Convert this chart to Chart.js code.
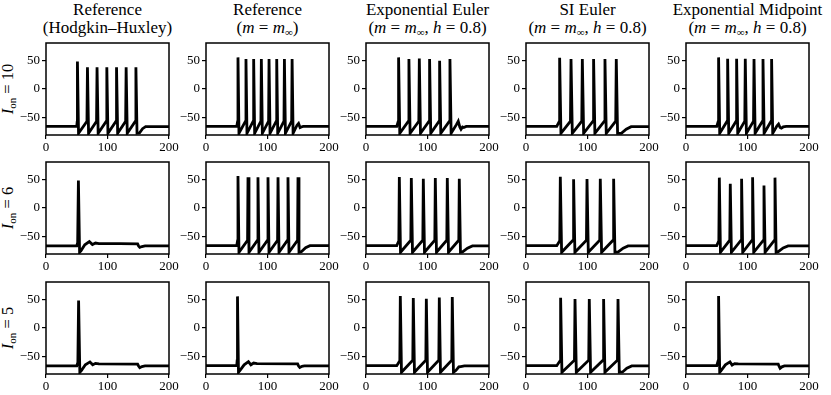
<!DOCTYPE html>
<html>
<head>
<meta charset="utf-8">
<script src="https://cdn.jsdelivr.net/npm/chart.js@4.4.1/dist/chart.umd.min.js"></script>
<style>
  body { margin: 0; background: #fff; width: 831px; height: 395px; position: relative; overflow: hidden; font-family: "Liberation Serif", "DejaVu Serif", serif; color: #000; }
  .title { position: absolute; top: 1px; width: 190px; text-align: center; font-size: 17px; line-height: 17.5px; white-space: nowrap; }
  .rowlabel { position: absolute; width: 90px; height: 20px; line-height: 20px; text-align: center; font-size: 16.5px; transform: rotate(-90deg); white-space: nowrap; }
  .sub { font-size: 11px; position: relative; top: 3px; }
  canvas { position: absolute; }
</style>
</head>
<body>
<script>
// column titles and row labels
const methodTitles = [
    ['Reference', '(Hodgkin–Huxley)'],
    ['Reference', '(<i>m</i> = <i>m</i><span class="sub">∞</span>)'],
    ['Exponential Euler', '(<i>m</i> = <i>m</i><span class="sub">∞</span>, <i>h</i> = 0.8)'],
    ['SI Euler', '(<i>m</i> = <i>m</i><span class="sub">∞</span>, <i>h</i> = 0.8)'],
    ['Exponential Midpoint', '(<i>m</i> = <i>m</i><span class="sub">∞</span>, <i>h</i> = 0.8)']
];
const currents = [10, 6, 5];
const xTicks = [0, 100, 200];
const yTicks = [-50, 0, 50];

// voltage traces [t, V]
const hh10 = [[0,-65],[50,-65],[50.6,-58],[51.1,48],[52.9,-77],
    [66.6,-56],[67.4,38],[69.2,-77],[82.2,-56],[83,38],[84.8,-77],
    [98.1,-56],[98.9,38],[100.7,-77],[113.9,-56],[114.7,38],[116.5,-77],
    [129.5,-56],[130.3,38],[132.1,-77],[145.4,-56],[146.2,38],[148,-77],
    [152,-76.5],[157,-69],[162,-65.5],[200,-65.5]];
const mInf10 = [[0,-65],[50,-65],[51.3,-57],[52,55],[53.6,-77],
    [64.3,-56],[65,52],[66.6,-77],[76.8,-56],[77.5,52],[79.1,-77],
    [89.3,-56],[90,52],[91.6,-77],[101.8,-56],[102.5,52],[104.1,-77],
    [114.3,-56],[115,52],[116.6,-77],[126.8,-56],[127.5,52],[129.1,-77],
    [139.3,-56],[140,52],[141.6,-77],
    [148,-63],[150.5,-60],[153,-67],[155,-66],[158,-65],[200,-65]];
const expEuler10 = [[0,-65],[50,-65],[52.2,-57],[53,55],[54.9,-77],
    [69,-56],[69.8,52],[71.7,-77],[85.9,-56],[86.7,53],[88.6,-77],
    [102.6,-56],[103.4,52],[105.3,-77],[118.9,-56],[119.7,49],[121.6,-77],
    [135.7,-56],[136.5,52],[138.4,-77],
    [147,-62],[150,-56],[152.5,-66],[154.5,-70],[157,-66],[159,-67],[163,-65],[200,-65]];
const siEuler10 = [[0,-65],[50,-65],[53.8,-57],[54.7,54.5],[56.8,-77],
    [72.3,-56],[73.2,52],[75.3,-77],[90.7,-56],[91.6,52],[93.7,-77],
    [109,-56],[109.9,52],[112,-77],[127.5,-56],[128.4,52],[130.5,-77],
    [145.9,-56],[146.8,52],[148.9,-77],
    [155,-77],[163,-70],[171,-65.5],[200,-65.5]];
const expMid10 = [[0,-65],[50,-65],[52.2,-57],[53,55],[54.8,-77],
    [66.9,-56],[67.7,52.5],[69.5,-77],[81.5,-56],[82.3,52.5],[84.1,-77],
    [95.6,-56],[96.4,52.5],[98.2,-77],[109.8,-56],[110.6,52],[112.4,-77],
    [124.4,-56],[125.2,52],[127,-77],[138.4,-56],[139.2,52],[141,-77],
    [148,-64],[150.5,-61],[153,-67],[155,-68],[158,-66],[163,-65],[200,-65]];

const hh6 = [[0,-66],[50,-66],[51.5,-60],[52.7,48],[54.6,-77],[57,-74],[63,-64],
    [70.5,-58.5],[75.5,-63.5],[80.5,-61],[86,-62],[120,-62],[149,-62.5],
    [150.5,-66],[152.5,-68.5],[156,-67],[161,-66],[200,-66]];
const mInf6 = [[0,-65.5],[50,-65.5],[51.3,-57],[52,55.5],[53.6,-77],
    [67.6,-56],[68.3,53.5],[69.9,-77],[83.8,-56],[84.5,53.5],[86.1,-77],
    [100.1,-56],[100.8,53.5],[102.4,-77],[116.4,-56],[117.1,53.5],[118.7,-77],
    [132.6,-56],[133.3,53.5],[134.9,-77],[148.9,-56],[149.6,53.5],[151.2,-77],
    [155,-76],[162,-69],[169,-65.5],[200,-65.5]];
const expEuler6 = [[0,-65.5],[50,-65.5],[53.4,-57],[54.2,54],[56.1,-77],
    [72.9,-56],[73.7,52],[75.6,-77],[92.4,-56],[93.2,51],[95.1,-77],
    [111.9,-56],[112.7,52],[114.6,-77],[131.4,-56],[132.2,52],[134.1,-77],
    [150.9,-56],[151.7,51],[153.6,-77],
    [157,-76.5],[165,-70],[173,-66],[200,-66]];
const siEuler6 = [[0,-65.5],[50,-65.5],[54.9,-57],[55.8,54.5],[57.9,-77],
    [76.5,-56],[77.4,50],[79.5,-77],[98.3,-56],[99.2,50.5],[101.3,-77],
    [119.9,-56],[120.8,51],[122.9,-77],[141.6,-56],[142.5,51],[144.6,-77],
    [150,-76.5],[158,-70],[166,-66],[200,-66]];
const expMid6 = [[0,-65.5],[50,-65.5],[53.4,-57],[54.2,52.8],[56,-77],
    [71.2,-56],[72,42],[73.8,-77],[89.6,-56],[90.4,51],[92.2,-77],
    [107.5,-56],[108.3,53.5],[110.1,-77],[126,-56],[126.8,39],[128.6,-77],
    [143.9,-56],[144.7,52.8],[146.5,-77],
    [150,-76],[158,-69.5],[166,-66],[200,-66]];

const hh5 = [[0,-66],[50,-66],[51.8,-60],[53,48],[55,-77],[57.5,-74],[64,-64],
    [71.5,-59],[76,-64],[80.5,-61.5],[86,-62.5],[149,-63],
    [150.5,-66],[152.5,-69],[156,-67],[161,-66],[200,-66]];
const mInf5 = [[0,-65.5],[50,-65.5],[50.6,-57],[51.2,55],[52.8,-77],[55,-74],[62,-64],
    [69,-58.5],[73,-64],[77.5,-61],[83,-62],[149,-62.5],
    [150.5,-66],[152.5,-68.5],[156,-66.5],[160,-66],[200,-66]];
const expEuler5 = [[0,-65.5],[50,-65.5],[55,-57],[55.8,55.5],[57.7,-77],
    [76.1,-56],[76.9,52],[78.8,-77],[97.3,-56],[98.1,51],[100,-77],
    [118.4,-56],[119.2,53],[121.1,-77],[139.5,-56],[140.3,54],[142.2,-77],
    [146,-74],[151,-67.5],[154,-67],[160,-66],[200,-66]];
const siEuler5 = [[0,-65.5],[50,-65.5],[55.4,-57],[56.3,52.5],[58.4,-77],
    [78.8,-56],[79.7,50.5],[81.8,-77],[102,-56],[102.9,50.5],[105,-77],
    [125.3,-56],[126.2,50.5],[128.3,-77],[148.7,-56],[149.6,50.5],[151.7,-77],
    [157,-76.5],[164,-70],[172,-66],[200,-66]];
const expMid5 = [[0,-65.5],[50,-65.5],[52.2,-57],[53,55.5],[54.8,-77],[57,-74],[64,-64],
    [71.5,-59],[75,-64.5],[79,-62],[85,-62.5],[150,-63],
    [151.5,-67],[153,-70],[156,-67.5],[160,-66],[200,-66]];

const traces = [
    [hh10, mInf10, expEuler10, siEuler10, expMid10],
    [hh6, mInf6, expEuler6, siEuler6, expMid6],
    [hh5, mInf5, expEuler5, siEuler5, expMid5]
];

// panel geometry (plot box in page pixels)
const colLeft = [46, 206, 366, 526, 686];
const rowTop = [43, 162, 282];
const boxW = 123, boxH = 92;
const padL = 44, padT = 12, padR = 20, padB = 24;

const framePlugin = {
    id: 'frame',
    afterDraw(chart) {
        const a = chart.chartArea;
        const ctx = chart.ctx;
        ctx.save();
        ctx.strokeStyle = '#000';
        ctx.lineWidth = 1.5;
        ctx.strokeRect(a.left, a.top, a.right - a.left, a.bottom - a.top);
        ctx.restore();
    }
};

const tickFont = { family: '"Liberation Serif", "DejaVu Serif", serif', size: 13 };

function fmt(v) {
    return v < 0 ? '\u2212' + Math.abs(v) : String(v);
}

function drawPanel(trace, left, top) {
    const canvas = document.createElement('canvas');
    canvas.width = padL + boxW + padR;
    canvas.height = padT + boxH + padB;
    canvas.style.left = (left - padL) + 'px';
    canvas.style.top = (top - padT) + 'px';
    document.body.appendChild(canvas);

    new Chart(canvas.getContext('2d'), {
        type: 'line',
        data: {
            datasets: [{
                data: trace.map(p => ({ x: p[0], y: p[1] })),
                borderColor: '#000',
                borderWidth: 2.8,
                pointRadius: 0,
                tension: 0,
                fill: false
            }]
        },
        options: {
            responsive: false,
            animation: false,
            devicePixelRatio: 1,
            layout: { padding: { top: padT, right: padR, left: 0, bottom: 0 } },
            plugins: { legend: { display: false }, tooltip: { enabled: false } },
            scales: {
                x: {
                    type: 'linear', min: 0, max: 200,
                    afterBuildTicks: s => { s.ticks = xTicks.map(v => ({ value: v })); },
                    afterFit: s => { s.height = padB; },
                    border: { display: false },
                    grid: { drawOnChartArea: false, drawTicks: true, tickLength: 4, color: '#000', lineWidth: 1.2 },
                    ticks: { autoSkip: false, maxRotation: 0, color: '#000', padding: 1, font: tickFont, callback: fmt }
                },
                y: {
                    type: 'linear', min: -80, max: 80,
                    afterBuildTicks: s => { s.ticks = yTicks.map(v => ({ value: v })); },
                    afterFit: s => { s.width = padL; },
                    border: { display: false },
                    grid: { drawOnChartArea: false, drawTicks: true, tickLength: 4, color: '#000', lineWidth: 1.2 },
                    ticks: { color: '#000', padding: 2, font: tickFont, callback: fmt }
                }
            }
        },
        plugins: [framePlugin]
    });
}

methodTitles.forEach((t, c) => {
    const d = document.createElement('div');
    d.className = 'title';
    d.style.left = (colLeft[c] + boxW / 2 - 95) + 'px';
    d.innerHTML = t[0] + '<br>' + t[1];
    document.body.appendChild(d);
});

currents.forEach((cur, r) => {
    const d = document.createElement('div');
    d.className = 'rowlabel';
    d.style.left = (8 - 45) + 'px';
    d.style.top = (rowTop[r] + boxH / 2 - 10) + 'px';
    d.innerHTML = '<i>I</i><span class="sub">on</span> = ' + cur;
    document.body.appendChild(d);
    traces[r].forEach((tr, c) => drawPanel(tr, colLeft[c], rowTop[r]));
});
</script>
</body>
</html>
